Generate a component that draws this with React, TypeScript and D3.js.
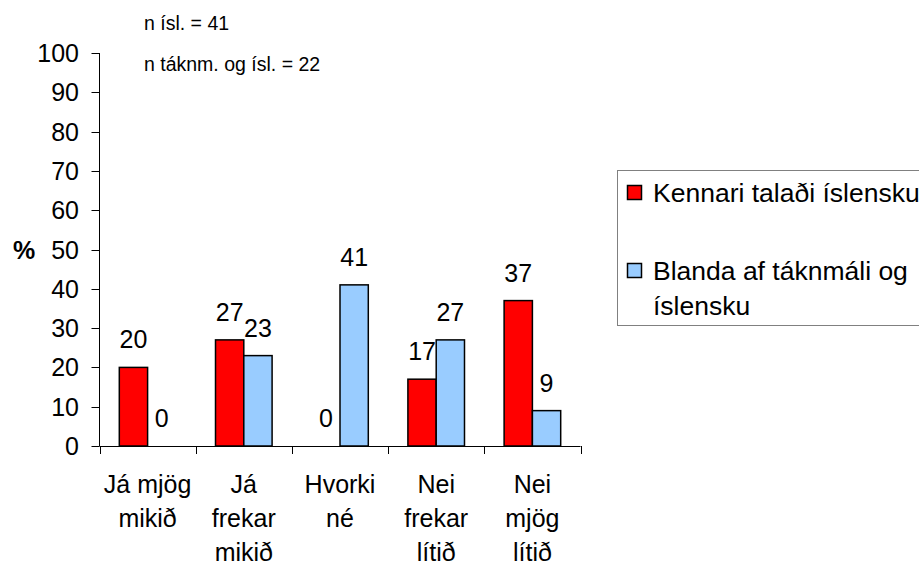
import React, { useEffect, useRef } from 'react';
import * as d3 from 'd3';

const categories = ['Já mjög|mikið', 'Já|frekar|mikið', 'Hvorki|né', 'Nei|frekar|lítið', 'Nei|mjög|lítið'];
const kennari = [20, 27, 0, 17, 37];
const blanda = [0, 23, 41, 27, 9];
const seriesNames = ['Kennari talaði íslensku', 'Blanda af táknmáli og|íslensku'];
const yTicks = [0, 10, 20, 30, 40, 50, 60, 70, 80, 90, 100];
const notes = ['n ísl. = 41', 'n táknm. og ísl. = 22'];

const App = () => {
  const chartRef = useRef<SVGSVGElement>(null);

  useEffect(() => {
    const width = 919;
    const height = 568;
    const font = 'Liberation Sans, Arial, sans-serif';

    const svg = d3.select(chartRef.current);
    svg.selectAll('*').remove();
    svg.attr('width', width).attr('height', height);

    const left = 99.5;
    const right = 580.5;
    const top = 53;
    const bottom = 446;

    const x = d3.scaleBand().domain(categories).range([left, right]).padding(0);
    const bw = x.bandwidth();
    const inner = d3.scaleBand().domain(['k', 'b']).range([0, bw]).paddingInner(0).paddingOuter(0.7);
    const y = d3.scaleLinear().domain([0, 100]).range([bottom, top]);

    const colors = ['#FF0000', '#99CCFF'];
    const series = [kennari, blanda];
    const keys = ['k', 'b'];

    // bars
    series.forEach((vals, si) => {
      svg.append('g')
        .selectAll('rect')
        .data(vals)
        .enter()
        .append('rect')
        .attr('x', (d, i) => (x(categories[i]) as number) + (inner(keys[si]) as number))
        .attr('y', d => y(d))
        .attr('width', inner.bandwidth())
        .attr('height', d => y(0) - y(d))
        .attr('fill', colors[si])
        .attr('stroke', d => (d === 0 ? 'none' : '#000'))
        .attr('stroke-width', 1.5);

      svg.append('g')
        .selectAll('text')
        .data(vals)
        .enter()
        .append('text')
        .attr('x', (d, i) => (x(categories[i]) as number) + (inner(keys[si]) as number) + inner.bandwidth() / 2)
        .attr('y', d => y(d) - 19)
        .attr('text-anchor', 'middle')
        .attr('font-family', font)
        .attr('font-size', 25)
        .attr('fill', '#000')
        .text(d => d);
    });

    // y axis
    const yAxis = svg.append('g');
    yAxis.append('line')
      .attr('x1', left).attr('x2', left)
      .attr('y1', top).attr('y2', bottom)
      .attr('stroke', '#000');
    yAxis.selectAll('.tick')
      .data(yTicks)
      .enter()
      .append('line')
      .attr('x1', left - 8).attr('x2', left)
      .attr('y1', d => Math.round(y(d)) + 0.5).attr('y2', d => Math.round(y(d)) + 0.5)
      .attr('stroke', '#000');
    yAxis.selectAll('text')
      .data(yTicks)
      .enter()
      .append('text')
      .attr('x', 79)
      .attr('y', d => y(d) + 9)
      .attr('text-anchor', 'end')
      .attr('font-family', font)
      .attr('font-size', 25)
      .text(d => d);

    svg.append('text')
      .attr('x', 13)
      .attr('y', 259)
      .attr('font-family', font)
      .attr('font-size', 25)
      .attr('font-weight', 'bold')
      .text('%');

    // x axis
    const xAxis = svg.append('g');
    xAxis.append('line')
      .attr('x1', left).attr('x2', right)
      .attr('y1', bottom + 0.5).attr('y2', bottom + 0.5)
      .attr('stroke', '#000');
    const edges = categories.map(c => x(c) as number).concat([right]);
    xAxis.selectAll('.tick')
      .data(edges)
      .enter()
      .append('line')
      .attr('x1', d => Math.round(d) + 0.5).attr('x2', d => Math.round(d) + 0.5)
      .attr('y1', bottom).attr('y2', bottom + 8)
      .attr('stroke', '#000');
    categories.forEach(c => {
      const t = xAxis.append('text')
        .attr('text-anchor', 'middle')
        .attr('font-family', font)
        .attr('font-size', 25);
      c.split('|').forEach((line, li) => {
        t.append('tspan')
          .attr('x', (x(c) as number) + bw / 2)
          .attr('y', 493 + li * 34)
          .text(line);
      });
    });

    // notes
    notes.forEach((n, i) => {
      svg.append('text')
        .attr('x', 144)
        .attr('y', 30 + i * 41)
        .attr('font-family', font)
        .attr('font-size', 19.5)
        .text(n);
    });

    // legend
    const lg = svg.append('g');
    lg.append('rect')
      .attr('x', 617.5).attr('y', 170.5)
      .attr('width', 320).attr('height', 155)
      .attr('fill', '#fff')
      .attr('stroke', '#808080')
      .attr('stroke-width', 1);
    const legY = [202, 280];
    seriesNames.forEach((name, i) => {
      lg.append('rect')
        .attr('x', 627.5).attr('y', legY[i] - 16.5)
        .attr('width', 14).attr('height', 14)
        .attr('fill', colors[i])
        .attr('stroke', '#000')
        .attr('stroke-width', 1.5);
      const t = lg.append('text')
        .attr('font-family', font)
        .attr('font-size', 26.5);
      name.split('|').forEach((line, li) => {
        t.append('tspan')
          .attr('x', 653)
          .attr('y', legY[i] + li * 35)
          .text(line);
      });
    });
  }, []);

  return (
    <svg ref={chartRef} style={{ position: 'absolute', left: 0, top: 0, background: '#fff' }} />
  );
};

export default App;
